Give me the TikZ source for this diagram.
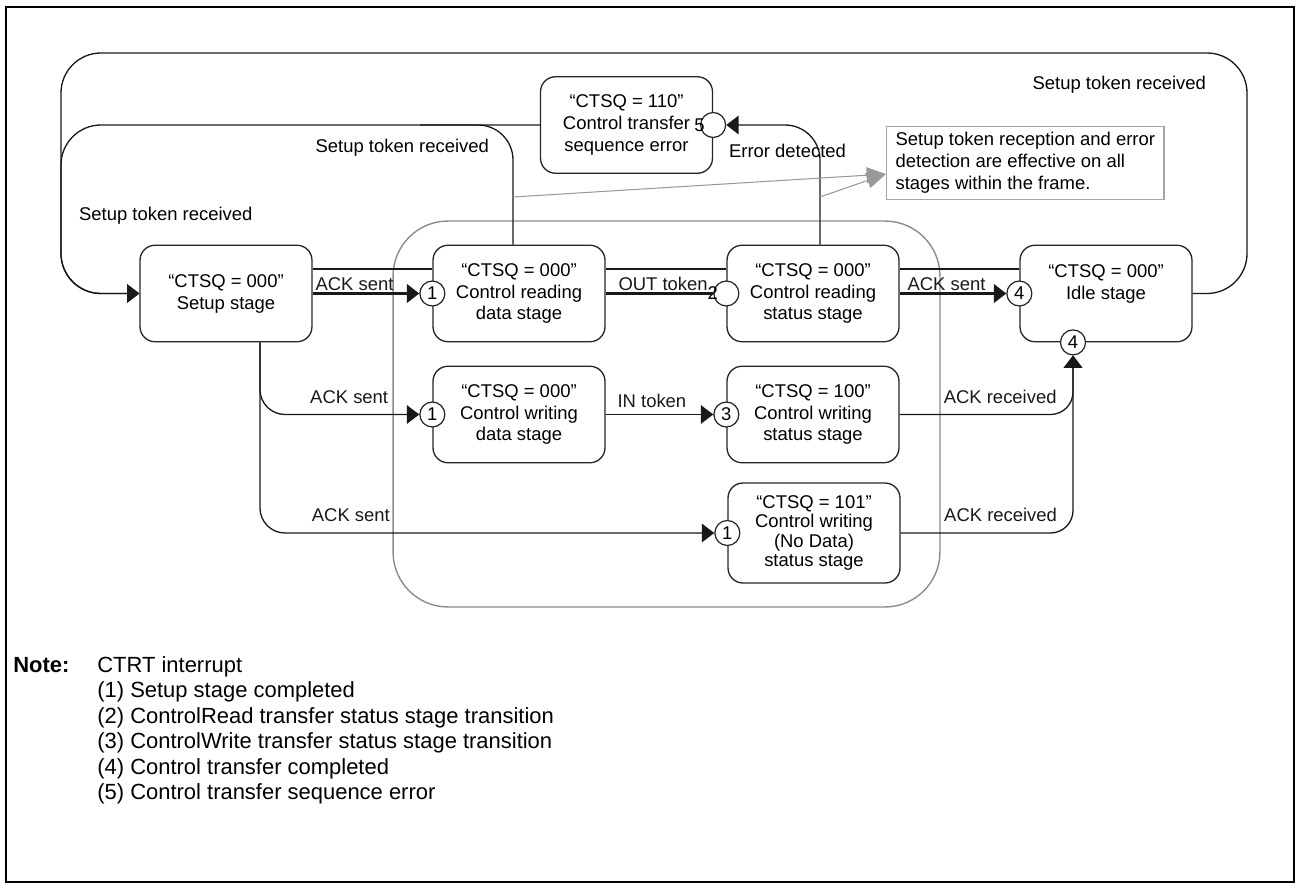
\documentclass[tikz,border=0pt]{standalone}
\usepackage{fontspec}
\setmainfont{Liberation Sans}
\usetikzlibrary{arrows.meta}

\begin{document}
\begin{tikzpicture}[
        x=0.02cm, y=-0.02cm,
        stage/.style={rectangle, rounded corners=0.3cm, draw=black!85, line width=0.75pt, fill=white, minimum width=3.44cm, minimum height=1.93cm, inner sep=0pt, align=center, font=\fontsize{10.5}{12.5}\selectfont},
        num/.style={circle, draw=black!85, line width=0.7pt, fill=white, minimum size=0.5cm, inner sep=0pt, font=\fontsize{10.5}{12.5}\selectfont},
        lab/.style={inner sep=1pt, font=\fontsize{10.5}{12.5}\selectfont},
        arrow/.style={-{Triangle[length=7pt, width=10.5pt]}},
        link/.style={line width=0.75pt, black!90},
        dbl/.style={line width=1.3pt, black!90},
        hint/.style={draw=black!40, line width=0.6pt, -{Triangle[length=11pt, width=9pt]}}
    ]
        \useasboundingbox (0,0) rectangle (1301,888);
        \draw[line width=1.1pt] (6,7) rectangle (1294,882);

        % frame round the stages where setup tokens and errors count
        \node[draw=black!45, line width=0.8pt, rounded corners=1.1cm, minimum width=10.94cm, minimum height=7.72cm] (frame) at (666.5,414) {};

        % stages
        \node[stage] (setup) at (226,293.5) {“CTSQ = 000”\\Setup stage};
        \node[stage] (rdata) at (519,293.5) {“CTSQ = 000”\\Control reading\\data stage};
        \node[stage] (rstat) at (813,293.5) {“CTSQ = 000”\\Control reading\\status stage};
        \node[stage] (idle) at (1106,293.5) {“CTSQ = 000”\\Idle stage\\\mbox{}};
        \node[stage] (err) at (626.5,125) {“CTSQ = 110”\\Control transfer\\sequence error};
        \node[stage] (wdata) at (519,414.5) {“CTSQ = 000”\\Control writing\\data stage};
        \node[stage] (wstat) at (813,414.5) {“CTSQ = 100”\\Control writing\\status stage};
        \node[stage, minimum height=2cm, font=\fontsize{10.5}{11}\selectfont] (nodata) at (814,533) {“CTSQ = 101”\\Control writing\\(No Data)\\status stage};

        % interrupt marks
        \node[num] (n1a) at (rdata.west) {1};
        \node[num] (n1b) at (wdata.west) {1};
        \node[num] (n1c) at (nodata.west) {1};
        \node[num, label={[lab, inner sep=0pt, label distance=-0.1cm]west:2}] (n2) at (rstat.west) {};
        \node[num] (n3) at (wstat.west) {3};
        \node[num] (n4a) at (idle.west) {4};
        \node[num] (n4b) at ([xshift=-0.66cm]idle.south) {4};
        \node[num, label={[lab, inner sep=0pt, label distance=-0.1cm]west:5}] (n5) at (err.east) {};

        % reading path
        \draw[dbl] ([yshift=0.49cm]setup.east) -- ([yshift=0.49cm]rdata.west);
        \draw[dbl, arrow] (setup.east) -- node[lab, above right, pos=0] {ACK sent} (n1a);
        \draw[dbl] ([yshift=0.49cm]rdata.east) -- ([yshift=0.49cm]rstat.west);
        \draw[dbl] (rdata.east) -- node[lab, above right, pos=0, xshift=0.2cm] {OUT token} (n2);
        \draw[dbl] ([yshift=0.49cm]rstat.east) -- ([yshift=0.49cm]idle.west);
        \draw[dbl, arrow] (rstat.east) -- node[lab, above right, pos=0, xshift=0.1cm] {ACK sent} (n4a);

        % writing paths
        \draw[link, arrow, rounded corners=0.5cm] ([xshift=0.68cm]setup.south) |- node[lab, above=4.5pt, pos=0.78] {ACK sent} (n1b);
        \draw[link, arrow, rounded corners=0.5cm] ([xshift=0.68cm]setup.south) |- node[lab, above=5pt, pos=0.6] {ACK sent} (n1c);
        \draw[link, arrow] (wdata.east) -- node[lab, above=2.5pt, pos=0.43] {IN token} (n3);
        \draw[link, arrow, rounded corners=0.45cm] (wstat.east) -| node[lab, above=4.5pt, pos=0.29] {ACK received} (n4b);
        \draw[link, arrow, rounded corners=0.45cm] (nodata.east) -| node[lab, above=5pt, pos=0.29] {ACK received} (n4b);

        % back to setup and to the error stage
        \draw[link, arrow, rounded corners=0.8cm] (idle.east) -| (1247,53) -| (61,293.5) -- (setup.west);
        \draw[link, arrow, rounded corners=0.8cm] (err.west) -| (61,293.5) -- (setup.west);
        \draw[link, rounded corners=0.7cm] ([xshift=-0.12cm]rdata.north) |- (420,125);
        \draw[link, arrow, rounded corners=0.7cm] ([xshift=0.14cm]rstat.north) |- (n5);

        \node[lab, anchor=east] (tokA) at (1208,85) {Setup token received};
        \node[lab, anchor=east] (tokB) at (491,148) {Setup token received};
        \node[lab, anchor=west] (tokC) at (77,216) {Setup token received};
        \node[lab, anchor=west] (errlab) at (727,151) {Error detected};

        % remark
        \node[draw=black!35, line width=0.7pt, inner xsep=0.18cm, minimum height=1.44cm, align=left, font=\fontsize{10.5}{12.5}\selectfont, anchor=north west] (note) at (886,126) {Setup token reception and error\\detection are effective on all\\stages within the frame.};
        \coordinate (gA) at (513,197);
        \coordinate (gB) at (820,197);
        \draw[hint] (gA) -- ([yshift=-0.22cm]note.west);
        \draw[hint] (gB) -- ([yshift=-0.22cm]note.west);

        % legend
        \node[anchor=north west, inner sep=0pt, font=\fontsize{12.5}{14.5}\selectfont] (legend) at (13,654) {%
            \begin{tabular}{@{}p{1.68cm}@{}l@{}}
                \textbf{Note:} & CTRT interrupt\\
                & (1) Setup stage completed\\
                & (2) ControlRead transfer status stage transition\\
                & (3) ControlWrite transfer status stage transition\\
                & (4) Control transfer completed\\
                & (5) Control transfer sequence error
            \end{tabular}};
    \end{tikzpicture}
\end{document}
